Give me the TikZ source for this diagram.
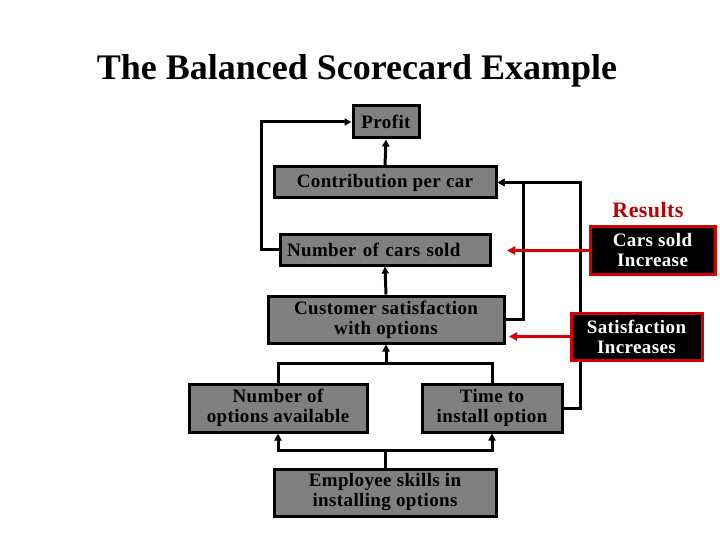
\documentclass[tikz,border=0pt]{standalone}
\usepackage{fontspec}
\setmainfont{Liberation Serif}
\newfontfamily\boxfont[LetterSpace=2]{Liberation Serif}
\usetikzlibrary{arrows.meta}
\definecolor{boxgray}{RGB}{128,128,128}
\definecolor{redline}{RGB}{210,0,0}
\definecolor{redtext}{RGB}{190,0,0}
\tikzset{
  gbox/.style={draw=black, line width=3pt, fill=boxgray, inner sep=0pt,
    font=\boxfont\fontsize{19}{20}\selectfont\bfseries, align=center, text=black},
  kbox/.style={draw=redline, line width=3pt, fill=black, inner sep=0pt,
    font=\boxfont\fontsize{19}{20}\selectfont\bfseries, align=center, text=white},
  conn/.style={draw=black, line width=3pt},
  arr/.style={conn, -{Triangle[length=7pt,width=7pt]}},
  redarr/.style={draw=redline, line width=3pt, -{Triangle[length=8pt,width=8pt]}},
}
\begin{document}
\begin{tikzpicture}[x=1pt,y=-1pt]
\useasboundingbox (0,0) rectangle (720,540);
% title
\node[anchor=base, font=\fontsize{36}{40}\selectfont\bfseries] (title) at (357,80) {The Balanced Scorecard Example};
% boxes
\node[gbox, minimum width=66pt, minimum height=32pt] (profit) at (386,122) {Profit};
\node[gbox, minimum width=222pt, minimum height=31pt] (contrib) at (385,182.5) {Contribution per car};
\node[gbox, minimum height=31pt, text width=196pt, inner xsep=7pt, align=left] (numcars) at (385,249.5) {Number of cars sold};
\node[gbox, minimum width=236pt, minimum height=47pt] (cust) at (386,319.5) {Customer satisfaction\\with options};
\node[gbox, minimum width=178pt, minimum height=48pt] (opts) at (278,408) {Number of\\options available};
\node[gbox, minimum width=140pt, minimum height=48pt] (time) at (492,408) {Time to\\install option};
\node[gbox, minimum width=222pt, minimum height=47pt] (emp) at (385,492.5) {Employee skills in\\installing options};
% connectors (black)
\draw[arr] (numcars.west) -- ++(-17,0) |- (profit.west);
\draw[arr] (contrib.north) -- (profit.south);
\draw[arr] (cust.east) -- ++(18,0) |- (contrib.east);
\draw[arr] (time.east) -- ++(17,0) |- (contrib.east);
\draw[arr] (cust.north) -- (numcars.south);
\coordinate (j1) at (386,363);
\draw[conn] (opts.north) |- (j1) -| (time.north);
\draw[arr] (j1) -- (cust.south);
\coordinate (j2) at (385,450);
\draw[conn] (emp.north) -- (j2);
\draw[arr] (j2) -| (opts.south);
\draw[arr] (j2) -| (time.south);
% results
\node[anchor=base, text=redtext, font=\boxfont\fontsize{22}{24}\selectfont\bfseries] (results) at (648,218) {Results};
\node[kbox, minimum width=125pt, minimum height=47pt] (carsinc) at (652.5,250.5) {Cars sold\\Increase};
\node[kbox, minimum width=131pt, minimum height=47pt] (satinc) at (636.5,336.5) {Satisfaction\\Increases};
\coordinate (r1) at (507,250.5);
\coordinate (r2) at (509,336.5);
\draw[redarr] (carsinc.west) -- (r1);
\draw[redarr] (satinc.west) -- (r2);
\end{tikzpicture}
\end{document}
